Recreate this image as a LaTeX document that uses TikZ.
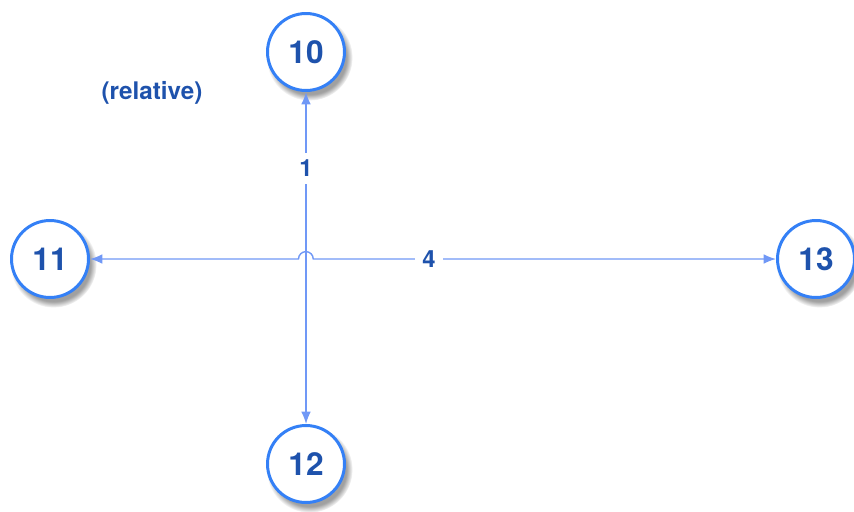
\documentclass[tikz,border=0pt]{standalone}
\usepackage{fontspec}
\setsansfont{TeX Gyre Heros}
\usepackage{tikz}
\usetikzlibrary{arrows.meta, calc, shadows}
\usepackage{xcolor}

\definecolor{ringblue}{RGB}{52,128,246}
\definecolor{textblue}{RGB}{30,82,172}
\definecolor{lineblue}{RGB}{112,152,246}

\begin{document}
\begin{tikzpicture}[
    x=0.02cm, y=-0.02cm,
    state node/.style={circle, fill=white, draw=ringblue, line width=1.7pt, minimum size=1.54cm, inner sep=0pt,
        text=textblue, font=\sffamily\bfseries\fontsize{18}{20}\selectfont,
        circular drop shadow={shadow xshift=1.8pt, shadow yshift=-2.8pt, shadow scale=1.12, opacity=0.75}},
    link/.style={draw=lineblue, line width=0.8pt, {Latex[length=7pt, width=5.5pt]}-{Latex[length=7pt, width=5.5pt]}},
    hop label/.style={fill=white, inner sep=4pt, text=textblue, font=\sffamily\bfseries\fontsize{13.5}{16}\selectfont}
]
    \useasboundingbox (0,0) rectangle (854,511);

    % States
    \node[state node] (n10) at (306,52) {10};
    \node[state node] (n11) at (50,259) {11};
    \node[state node] (n12) at (306,464) {12};
    \node[state node] (n13) at (816,259) {13};

    % Crossing point
    \coordinate (c) at (306,259);

    % Note
    \node[text=textblue, font=\sffamily\bfseries\fontsize{13.8}{16}\selectfont] (note) at (152,93) {(relative)};

    % Edges
    \draw[link] (n10) -- node[hop label, pos=0.23] {1} (n12);
    \draw[link] (n11) -- ($(c)+(-7.5,0)$) arc[start angle=180, delta angle=-180, radius=4.2pt]
        -- node[hop label, pos=0.25] {4} (n13);
\end{tikzpicture}
\end{document}
